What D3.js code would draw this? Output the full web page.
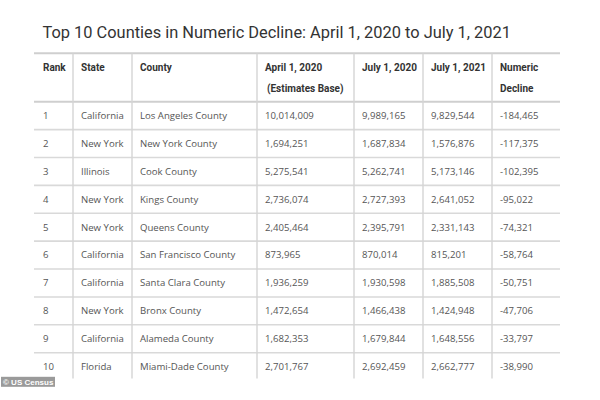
<!DOCTYPE html>
<html>
<head>
<meta charset="utf-8">
<script src="https://cdn.jsdelivr.net/npm/d3@7"></script>
<style>
  body { margin: 0; background: #fff; }
</style>
</head>
<body>
<svg></svg>
<script>
// table data
const ranks = [1, 2, 3, 4, 5, 6, 7, 8, 9, 10];
const states = ["California", "New York", "Illinois", "New York", "New York",
  "California", "California", "New York", "California", "Florida"];
const counties = ["Los Angeles County", "New York County", "Cook County", "Kings County",
  "Queens County", "San Francisco County", "Santa Clara County", "Bronx County",
  "Alameda County", "Miami-Dade County"];
const base2020 = [10014009, 1694251, 5275541, 2736074, 2405464, 873965, 1936259, 1472654, 1682353, 2701767];
const jul2020 = [9989165, 1687834, 5262741, 2727393, 2395791, 870014, 1930598, 1466438, 1679844, 2692459];
const jul2021 = [9829544, 1576876, 5173146, 2641052, 2331143, 815201, 1885508, 1424948, 1648556, 2662777];
const decline = [-184465, -117375, -102395, -95022, -74321, -58764, -50751, -47706, -33797, -38990];

const headers = [["Rank"], ["State"], ["County"], ["April 1, 2020", "(Estimates Base)"],
  ["July 1, 2020"], ["July 1, 2021"], ["Numeric", "Decline"]];
const title = "Top 10 Counties in Numeric Decline: April 1, 2020 to July 1, 2021";
const source = "\u00a9 US Census";

const width = 600, height = 400;
const svg = d3.select("svg").attr("width", width).attr("height", height);

// column edges
const colEdges = [34, 73, 132, 257, 354, 423, 492, 560];
// plain hyphen for negatives, like the original
const fmt = d3.formatLocale({ decimal: ".", thousands: ",", grouping: [3], currency: ["$", ""], minus: "-" }).format(",");

const rows = ranks.map((r, i) => [
  String(r), states[i], counties[i], fmt(base2020[i]), fmt(jul2020[i]), fmt(jul2021[i]), fmt(decline[i])
]);

const y = d3.scaleBand().domain(ranks).range([101.7, 380.6]);
const tableTop = 53.3, headBottom = 101.7;

svg.append("text")
  .attr("x", 42.5).attr("y", 38.3)
  .attr("font-family", "Roboto, sans-serif")
  .attr("font-size", 16.4)
  .attr("fill", "#333")
  .text(title);

// horizontal lines
const hLines = [tableTop, headBottom].concat(ranks.slice(1).map(r => y(r)));
svg.selectAll("line.h").data(hLines).join("line")
  .attr("class", "h")
  .attr("x1", colEdges[0]).attr("x2", colEdges[colEdges.length - 1])
  .attr("y1", d => d).attr("y2", d => d)
  .attr("stroke", (d, i) => i < 2 ? "#cfcfcf" : "#d9d9d9")
  .attr("stroke-width", (d, i) => i < 2 ? 2 : 1.6);

// vertical lines
svg.selectAll("line.v").data(colEdges.slice(1, -1)).join("line")
  .attr("class", "v")
  .attr("x1", d => d).attr("x2", d => d)
  .attr("y1", tableTop).attr("y2", 378.5)
  .attr("stroke", "#d4d4d4")
  .attr("stroke-width", 1.4);

// header
const head = svg.append("g")
  .attr("font-family", "Roboto, sans-serif")
  .attr("font-weight", "bold")
  .attr("font-size", 10)
  .attr("fill", "#333");
headers.forEach((lines, c) => {
  lines.forEach((t, k) => {
    head.append("text")
      .attr("x", colEdges[c] + (c === 0 ? 9 : 8) + (k === 1 && c === 3 ? 2 : 0))
      .attr("y", 70.8 + k * 20.8)
      .text(t);
  });
});

// body
const body = svg.append("g")
  .attr("font-family", "'Open Sans', sans-serif")
  .attr("font-size", 9.6)
  .attr("fill", "#555");
rows.forEach((row, i) => {
  body.selectAll(null).data(row).join("text")
    .attr("x", (d, c) => colEdges[c] + (c === 0 ? 9 : 8))
    .attr("y", y(ranks[i]) + y.bandwidth() / 2)
    .attr("dy", "0.35em")
    .text(d => d);
});

// source label
const src = svg.append("g");
src.append("rect")
  .attr("x", 1).attr("y", 376.8).attr("width", 54).attr("height", 10)
  .attr("fill", "#9a9a9a");
src.append("text")
  .attr("x", 3).attr("y", 384.8)
  .attr("font-family", "Arial, 'Liberation Sans', sans-serif")
  .attr("font-weight", "bold")
  .attr("font-size", 8)
  .attr("fill", "#fff")
  .text(source);
</script>
</body>
</html>
